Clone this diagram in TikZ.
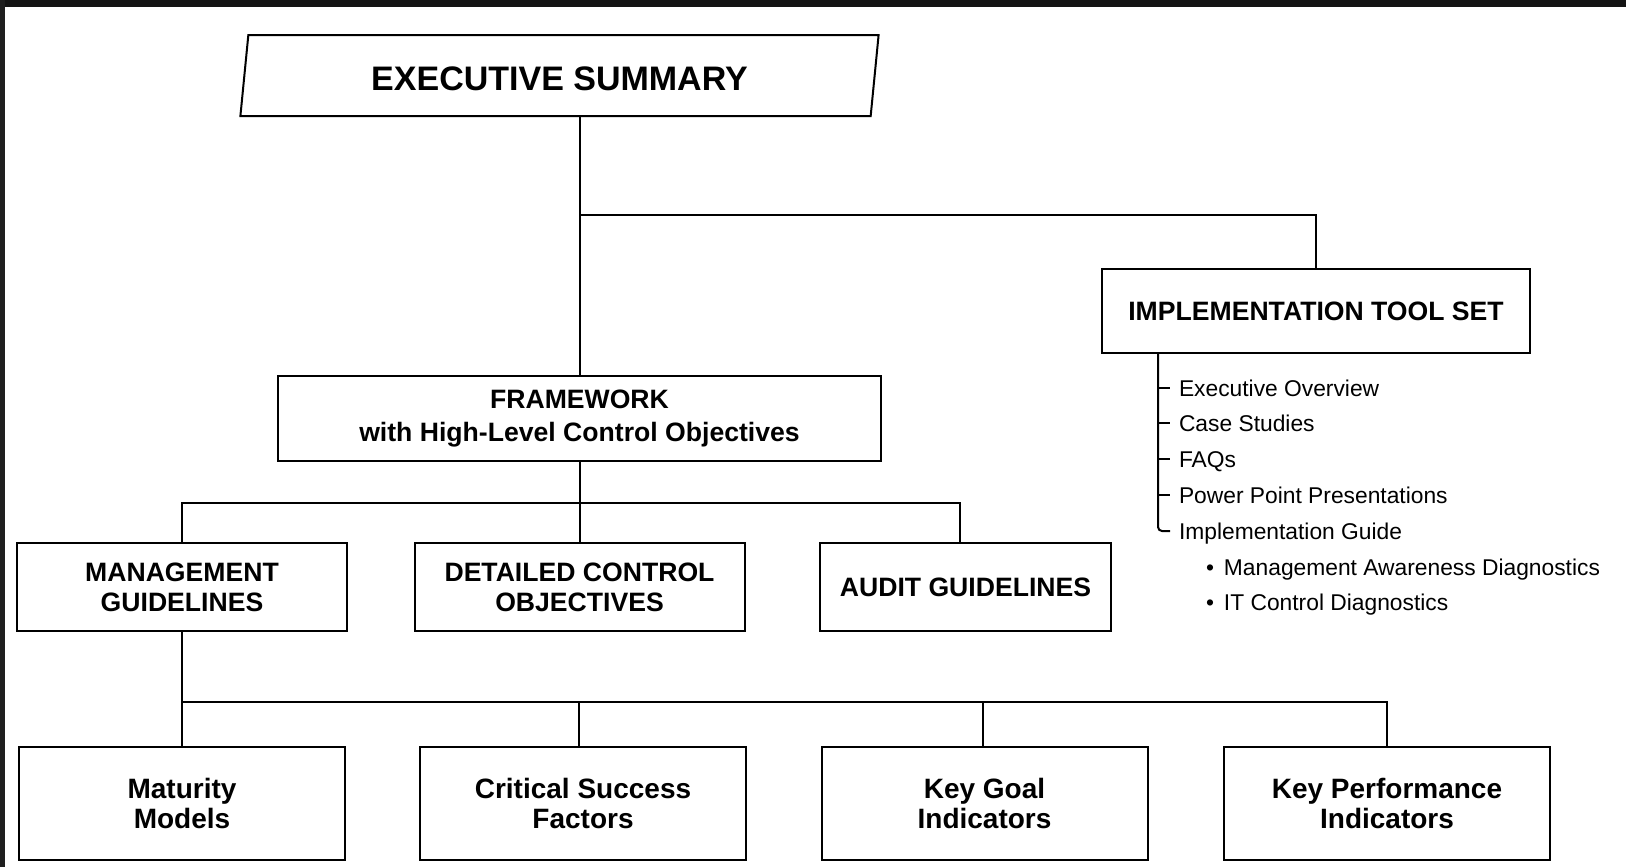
\documentclass[tikz,border=0pt]{standalone}
\usepackage{fontspec}
\setmainfont{Liberation Sans}
\usetikzlibrary{shapes.geometric}
\tikzstyle{top_box} = [draw, trapezium, trapezium left angle=81, trapezium right angle=99, trapezium stretches=true, minimum width=319.5pt, minimum height=40.5pt, inner sep=0pt, text height=15pt, font=\fontsize{17}{20}\selectfont\bfseries]
\tikzstyle{main_box} = [draw, rectangle, align=center, inner sep=0pt, font=\fontsize{13.3}{16.5}\selectfont\bfseries]
\tikzstyle{mid_box} = [main_box, minimum height=44pt, font=\fontsize{13.3}{15}\selectfont\bfseries]
\tikzstyle{low_box} = [main_box, minimum width=163pt, minimum height=56.5pt, font=\fontsize{14}{15}\selectfont\bfseries]
\tikzstyle{tool_item} = [anchor=west, inner xsep=4pt, inner ysep=0pt, text height=8pt, text depth=0pt, font=\fontsize{11.4}{13}\selectfont]

\begin{document}
\begin{tikzpicture}[x=0.5pt, y=-0.5pt, line width=1pt]
	\useasboundingbox (0,0) rectangle (1626,867);
	\fill[black!92] (0,0) rectangle (1626,7);
	\fill[black!88] (0,0) rectangle (5,867);

	\node[top_box] (exec) at (559.5,75.5) {EXECUTIVE SUMMARY};
	\node[main_box, minimum width=214pt, minimum height=42pt] (tool) at (1316,311) {IMPLEMENTATION TOOL SET};
	\node[main_box, minimum width=301.5pt, minimum height=42.5pt] (frame) at (579.5,418.5) {FRAMEWORK\\with High-Level Control Objectives};
	\node[mid_box, minimum width=165pt] (mgmt) at (182,587) {MANAGEMENT\\GUIDELINES};
	\node[mid_box, minimum width=165pt] (detail) at (579.5,587) {DETAILED CONTROL\\OBJECTIVES};
	\node[mid_box, minimum width=145.5pt] (audit) at (965.5,587) {AUDIT GUIDELINES};
	\node[low_box] (mature) at (182,803.5) {Maturity\\Models};
	\node[low_box] (critical) at (583,803.5) {Critical Success\\Factors};
	\node[low_box] (goal) at (984.5,803.5) {Key Goal\\Indicators};
	\node[low_box] (kpi) at (1387,803.5) {Key Performance\\Indicators};

	% bus points
	\coordinate (split) at (579.5,215);
	\coordinate (fbus) at (579.5,503);
	\coordinate (mbus) at (182,702);
	\coordinate (spine) at (1158,353);

	% draw lines
	\draw (exec.south -| frame.north) -- (frame.north);
	\draw (split) -| (tool.north);
	\draw (frame.south) -- (detail.north);
	\draw (mgmt.north) |- (fbus) -| ([xshift=-3pt]audit.north);
	\draw (mgmt.south) -- (mature.north);
	\draw (mbus) -| (kpi.north);
	\draw ([xshift=-2pt]critical.north) -- ([xshift=-2pt]critical.north |- mbus);
	\draw ([xshift=-1pt]goal.north) -- ([xshift=-1pt]goal.north |- mbus);

	% tool set list
	\foreach \txt/\yy [count=\i] in {Executive Overview/388, Case Studies/423, FAQs/459, Power Point Presentations/495}
		\node[tool_item] (item\i) at (1170,\yy) {\txt};
	\node[tool_item] (item5) at (1170,531) {Implementation Guide};
	\foreach \i in {1,...,4}
		\draw (spine |- item\i.west) -- (item\i.west);
	\draw[rounded corners=2pt] (spine) |- (item5.west);
	\node[tool_item] (diag1) at (1197,567) {\textbullet\hspace{5pt}Management Awareness Diagnostics};
	\node[tool_item] (diag2) at (1197,602) {\textbullet\hspace{5pt}IT Control Diagnostics};
\end{tikzpicture}
\end{document}
